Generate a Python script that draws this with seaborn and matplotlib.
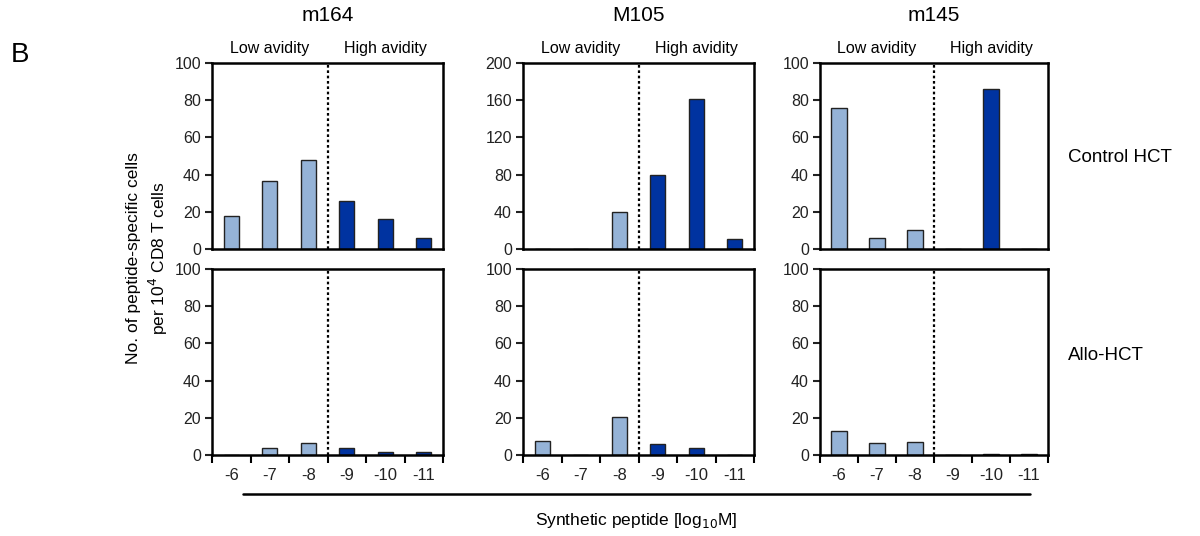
import pandas as pd
import matplotlib
matplotlib.use("Agg")
import matplotlib.pyplot as plt
import matplotlib.transforms as mtransforms
import seaborn as sns

# data
concs = ["-6", "-7", "-8", "-9", "-10", "-11"]
avidity = ["Low", "Low", "Low", "High", "High", "High"]
peptides = ["m164", "M105", "m145"]
conditions = ["Control HCT", "Allo-HCT"]

m164_control = [17.5, 36.5, 48, 26, 16, 6]
m164_allo = [0, 3.5, 6.5, 3.5, 1.5, 1.5]
M105_control = [0, 0, 40, 80, 161, 11]
M105_allo = [7.5, 0, 20.5, 6, 4, 0]
m145_control = [76, 6, 10, 0, 86, 0]
m145_allo = [13, 6.5, 7, 0, 0.5, 0.5]

values = {
    ("m164", "Control HCT"): m164_control,
    ("m164", "Allo-HCT"): m164_allo,
    ("M105", "Control HCT"): M105_control,
    ("M105", "Allo-HCT"): M105_allo,
    ("m145", "Control HCT"): m145_control,
    ("m145", "Allo-HCT"): m145_allo,
}

rows = []
for (pep, cond), vals in values.items():
    for c, a, v in zip(concs, avidity, vals):
        rows.append({"peptide": pep, "condition": cond, "conc": c, "avidity": a, "value": v})
df = pd.DataFrame(rows)

sns.set_style("white", {"text.color": "black", "axes.labelcolor": "black",
                        "xtick.color": "black", "ytick.color": "black"})
plt.rcParams["font.family"] = ["Liberation Sans", "DejaVu Sans"]

palette = {"Low": "#95b3d7", "High": "#0033a0"}

fig = plt.figure(figsize=(12, 5.36), dpi=100)
lefts = [212 / 1200, 523 / 1200, 820 / 1200]
widths = [231 / 1200, 231 / 1200, 228 / 1200]
bottoms = [(536 - 249) / 536, (536 - 455) / 536]
height = 186 / 536

for j, pep in enumerate(peptides):
    for i, cond in enumerate(conditions):
        ax = fig.add_axes([lefts[j], bottoms[i], widths[j], height])
        sub = df[(df.peptide == pep) & (df.condition == cond)]
        sns.barplot(data=sub, x="conc", y="value", hue="avidity", order=concs,
                    palette=palette, dodge=False, width=0.4, legend=False,
                    saturation=1, edgecolor="#222222", linewidth=1.0, ax=ax)
        ax.set_xlim(-0.5, 5.5)
        top = 200 if (pep == "M105" and i == 0) else 100
        step = 40 if top == 200 else 20
        ax.set_ylim(0, top)
        ax.set_yticks(range(0, top + 1, step))
        ax.axvline(2.5, color="black", linestyle=(0, (1.2, 1.2)), linewidth=1.6)
        for s in ax.spines.values():
            s.set_linewidth(1.8)
            s.set_color("black")
        ax.set_xlabel("")
        ax.set_ylabel("")
        ax.tick_params(axis="y", direction="out", length=5, width=1.5, labelsize=11.5,
                       left=True, pad=3, colors="#222222")
        if i == 1:
            ax.set_xticks(range(6))
            ax.set_xticklabels(concs, fontsize=12, color="#222222")
            ax.set_xticks([k - 0.5 for k in range(7)], minor=True)
            ax.tick_params(axis="x", which="major", length=0, pad=9)
            ax.tick_params(axis="x", which="minor", direction="out", length=6,
                           width=1.5, bottom=True, color="black")
        else:
            ax.set_xticks([])
            trans = mtransforms.blended_transform_factory(ax.transData, ax.transAxes)
            ax.text(1, 1.08, "Low avidity", transform=trans, ha="center",
                    va="center", fontsize=11.5)
            ax.text(4, 1.08, "High avidity", transform=trans, ha="center",
                    va="center", fontsize=11.5)
            ax.set_title(pep, fontsize=15, pad=30)

fig.text(1068 / 1200, 1 - 157 / 536, "Control HCT", fontsize=13.5, va="center", ha="left")
fig.text(1068 / 1200, 1 - 356 / 536, "Allo-HCT", fontsize=13.5, va="center", ha="left")
fig.text(148 / 1200, 1 - 258 / 536,
         "No. of peptide-specific cells\nper 10$^4$ CD8 T cells",
         rotation=90, ha="center", va="center", fontsize=12.5, linespacing=1.3)
fig.text(20 / 1200, 1 - 55 / 536, "B", fontsize=20, ha="center", va="center")

fig.add_artist(plt.Line2D([243 / 1200, 1030 / 1200], [1 - 494 / 536, 1 - 494 / 536],
                          color="black", linewidth=1.8))
fig.text(636 / 1200, 1 - 521 / 536, "Synthetic peptide [log$_{10}$M]",
         fontsize=12.5, ha="center", va="center")

fig.savefig("out.png", dpi=100)
